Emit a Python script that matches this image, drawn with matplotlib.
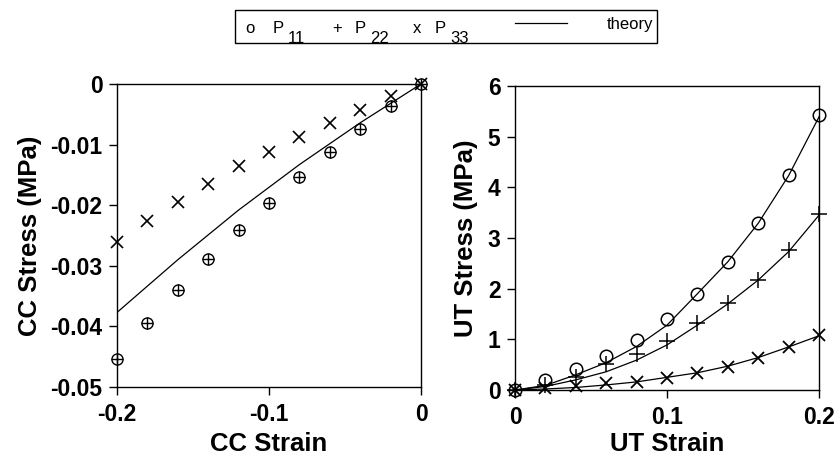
import matplotlib
matplotlib.use("Agg")
import matplotlib.pyplot as plt
from matplotlib.lines import Line2D
from matplotlib.patches import Rectangle

plt.rcParams['font.family'] = ['Liberation Sans', 'DejaVu Sans']

# ---- CC (confined compression) data ----
cc_strain = [-0.2, -0.18, -0.16, -0.14, -0.12, -0.10, -0.08, -0.06, -0.04, -0.02, 0.0]
cc_p11 = [-0.0453, -0.0395, -0.0340, -0.0289, -0.0241, -0.0197, -0.0154, -0.0113, -0.0075, -0.0037, 0.0]
cc_p22 = [-0.0453, -0.0395, -0.0340, -0.0289, -0.0241, -0.0197, -0.0154, -0.0113, -0.0075, -0.0037, 0.0]
cc_p33 = [-0.0260, -0.0226, -0.0194, -0.0165, -0.0136, -0.0113, -0.0087, -0.0065, -0.0043, -0.0019, 0.0]
cc_theory_strain = [-0.2, -0.16, -0.12, -0.08, -0.04, 0.0]
cc_theory = [-0.0377, -0.0290, -0.0208, -0.0133, -0.0064, 0.0]

# ---- UT (uniaxial tension) data ----
ut_strain = [0.0, 0.02, 0.04, 0.06, 0.08, 0.10, 0.12, 0.14, 0.16, 0.18, 0.20]
ut_p11 = [0.0, 0.20, 0.41, 0.67, 0.99, 1.40, 1.89, 2.52, 3.29, 4.24, 5.42]
ut_p22 = [0.0, 0.10, 0.26, 0.51, 0.72, 0.97, 1.32, 1.71, 2.18, 2.76, 3.47]
ut_p33 = [0.0, 0.03, 0.07, 0.14, 0.16, 0.24, 0.33, 0.46, 0.63, 0.84, 1.09]
ut_th11 = [0.0, 0.09, 0.30, 0.54, 0.86, 1.28, 1.90, 2.53, 3.29, 4.23, 5.39]
ut_th22 = [0.0, 0.07, 0.20, 0.36, 0.59, 0.89, 1.28, 1.70, 2.17, 2.73, 3.45]
ut_th33 = [0.0, 0.02, 0.05, 0.10, 0.16, 0.25, 0.34, 0.47, 0.64, 0.85, 1.07]

W, H = 836, 461
fig = plt.figure(figsize=(W / 100, H / 100), dpi=100)

tick_fs = 16.5
lab_fs = 18.5

def style(ax):
    for s in ax.spines.values():
        s.set_linewidth(1.0)
    ax.tick_params(direction='out', length=5.5, width=1.0, labelsize=tick_fs)
    ax.tick_params(axis='x', pad=6)
    ax.tick_params(axis='y', pad=5)
    for lab in ax.get_xticklabels() + ax.get_yticklabels():
        lab.set_fontweight('bold')

mk = dict(linestyle='none', color='black', markerfacecolor='none', clip_on=False, zorder=3)

# Left panel
ax1 = fig.add_axes([117 / W, 1 - 387 / H, 304 / W, 303 / H])
ax1.plot(cc_theory_strain, cc_theory, color='black', lw=0.9)
ax1.plot(cc_strain, cc_p11, marker='o', markersize=8, markeredgewidth=1.0, **mk)
ax1.plot(cc_strain, cc_p22, marker='+', markersize=8, markeredgewidth=1.0, **mk)
ax1.plot(cc_strain, cc_p33, marker='x', markersize=9, markeredgewidth=1.2, **mk)
ax1.set_xlim(-0.2, 0)
ax1.set_ylim(-0.05, 0)
ax1.set_xticks([-0.2, -0.1, 0])
ax1.set_xticklabels(['-0.2', '-0.1', '0'])
ax1.set_yticks([-0.05, -0.04, -0.03, -0.02, -0.01, 0])
ax1.set_yticklabels(['-0.05', '-0.04', '-0.03', '-0.02', '-0.01', '0'])
ax1.set_xlabel('CC Strain', fontsize=lab_fs, fontweight='bold', labelpad=4)
ax1.set_ylabel('CC Stress (MPa)', fontsize=lab_fs, fontweight='bold', labelpad=6)
style(ax1)

# Right panel
ax2 = fig.add_axes([515 / W, 1 - 390 / H, 304 / W, 304 / H])
ax2.plot(ut_strain, ut_th11, color='black', lw=0.9)
ax2.plot(ut_strain, ut_th22, color='black', lw=0.9)
ax2.plot(ut_strain, ut_th33, color='black', lw=0.9)
ax2.plot(ut_strain, ut_p11, marker='o', markersize=9, markeredgewidth=1.1, **mk)
ax2.plot(ut_strain, ut_p22, marker='+', markersize=11, markeredgewidth=1.1, **mk)
ax2.plot(ut_strain, ut_p33, marker='x', markersize=9, markeredgewidth=1.3, **mk)
ax2.set_xlim(0, 0.2)
ax2.set_ylim(0, 6)
ax2.set_xticks([0, 0.1, 0.2])
ax2.set_xticklabels(['0', '0.1', '0.2'])
ax2.set_yticks([0, 1, 2, 3, 4, 5, 6])
ax2.set_xlabel('UT Strain', fontsize=lab_fs, fontweight='bold', labelpad=2)
ax2.set_ylabel('UT Stress (MPa)', fontsize=lab_fs, fontweight='bold', labelpad=7)
style(ax2)

# Legend box (manual)
fig.patches.append(Rectangle((235 / W, 1 - 43 / H), 422 / W, 33 / H, transform=fig.transFigure,
                             fill=False, edgecolor='black', lw=1.0))
lfs = 12
base = 1 - 33 / H
sub = 1 - 43 / H
def t(x, y, s):
    fig.text(x / W, y, s, fontsize=lfs, va='baseline', ha='left')
t(245, base, 'o')
t(273, base, 'P')
t(288, sub, '11')
t(332, base, '+')
t(355, base, 'P')
t(370, sub, '22')
t(413, base, 'x')
t(435, base, 'P')
t(450, sub, '33')
fig.lines.append(Line2D([515 / W, 567 / W], [1 - 23 / H, 1 - 23 / H], transform=fig.transFigure,
                        color='black', lw=0.9))
t(607, 1 - 29 / H, 'theory')

fig.savefig('out.png', dpi=100)
